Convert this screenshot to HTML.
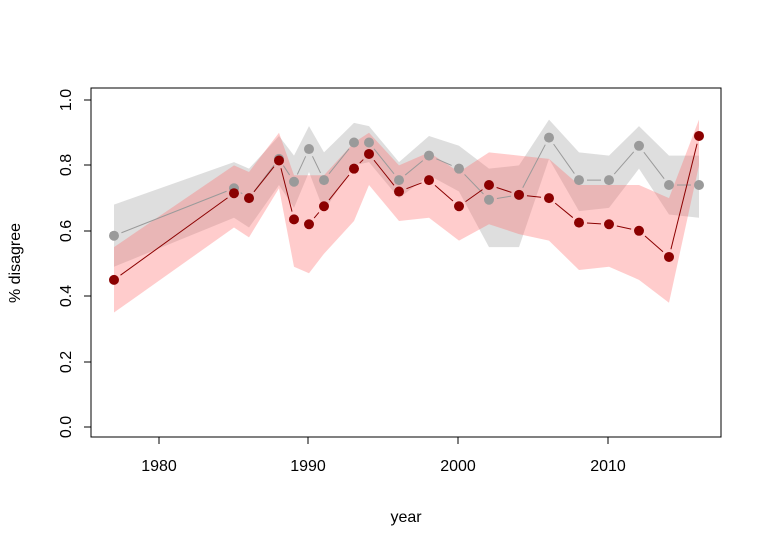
<!DOCTYPE html>
<html><head><meta charset="utf-8"><style>body{margin:0;background:#fff}svg{display:block}text{font-family:"Liberation Sans",sans-serif;fill:#000}</style></head><body>
<svg id="s" width="768" height="549" xmlns="http://www.w3.org/2000/svg">
<rect x="91" y="88" width="630" height="349" fill="none" stroke="#000" stroke-width="1"/>
<g stroke="#000" fill="none">
<line x1="159" y1="437" x2="608" y2="437"/>
<line x1="159" y1="437" x2="159" y2="444"/><line x1="308" y1="437" x2="308" y2="444"/><line x1="458" y1="437" x2="458" y2="444"/><line x1="608" y1="437" x2="608" y2="444"/>
<line x1="91" y1="100" x2="91" y2="427"/>
<line x1="84" y1="427" x2="91" y2="427"/><line x1="84" y1="362" x2="91" y2="362"/><line x1="84" y1="296" x2="91" y2="296"/><line x1="84" y1="231" x2="91" y2="231"/><line x1="84" y1="165" x2="91" y2="165"/><line x1="84" y1="100" x2="91" y2="100"/>
</g>
<g font-size="16" text-anchor="middle">
<text x="159" y="471">1980</text><text x="308" y="471">1990</text><text x="458" y="471">2000</text><text x="608" y="471">2010</text>
<text x="406" y="522">year</text>
<text transform="translate(71,427) rotate(-90)">0.0</text>
<text transform="translate(71,362) rotate(-90)">0.2</text>
<text transform="translate(71,296) rotate(-90)">0.4</text>
<text transform="translate(71,231) rotate(-90)">0.6</text>
<text transform="translate(71,165) rotate(-90)">0.8</text>
<text transform="translate(71,100) rotate(-90)">1.0</text>
<text transform="translate(20,263) rotate(-90)">% disagree</text>
</g>
<g id="g"></g>
</svg>
<script>
var yrs=[1977,1985,1986,1988,1989,1990,1991,1993,1994,1996,1998,2000,2002,2004,2006,2008,2010,2012,2014,2016];
var gv=[.585,.73,.70,.82,.75,.85,.755,.87,.87,.755,.83,.79,.695,.71,.885,.755,.755,.86,.74,.74];
var gu=[.68,.81,.79,.89,.83,.92,.84,.93,.92,.81,.89,.86,.79,.80,.94,.84,.83,.92,.83,.83];
var gl=[.49,.64,.61,.74,.67,.78,.66,.80,.81,.70,.77,.72,.55,.55,.82,.66,.67,.79,.65,.64];
var rv=[.45,.715,.70,.815,.635,.62,.675,.79,.835,.72,.755,.675,.74,.71,.70,.625,.62,.60,.52,.89];
var ru=[.55,.80,.78,.90,.77,.77,.77,.87,.90,.80,.84,.78,.84,.83,.82,.74,.74,.74,.70,.94];
var rl=[.35,.61,.58,.73,.49,.47,.53,.63,.74,.63,.64,.57,.62,.59,.57,.48,.49,.45,.38,.80];
function X(y){return 159+(y-1980)*15}function Y(v){return 427-327*v}
var h='';
function band(u,l,c){var p='M';for(var i=0;i<yrs.length;i++)p+=X(yrs[i])+','+Y(u[i])+' L';for(var i=yrs.length-1;i>=0;i--)p+=X(yrs[i])+','+Y(l[i])+(i?' L':'Z');h+='<path d="'+p+'" fill="'+c+'"/>';}
function line(v,c){for(var i=0;i<yrs.length-1;i++){var x1=X(yrs[i]),y1=Y(v[i]),x2=X(yrs[i+1]),y2=Y(v[i+1]);var dx=x2-x1,dy=y2-y1,d=Math.sqrt(dx*dx+dy*dy);if(d<16)continue;var g=8/d;h+='<line x1="'+(x1+dx*g)+'" y1="'+(y1+dy*g)+'" x2="'+(x2-dx*g)+'" y2="'+(y2-dy*g)+'" stroke="'+c+'" stroke-width="1"/>';}
for(var i=0;i<yrs.length;i++)h+='<circle cx="'+X(yrs[i])+'" cy="'+Y(v[i])+'" r="5" fill="'+c+'"/>';}
band(gu,gl,'rgba(190,190,190,0.5)');band(ru,rl,'rgba(255,110,110,0.35)');
line(gv,'#9a9a9a');line(rv,'#8b0000');
document.getElementById('g').innerHTML=h;
</script>
</body></html>
